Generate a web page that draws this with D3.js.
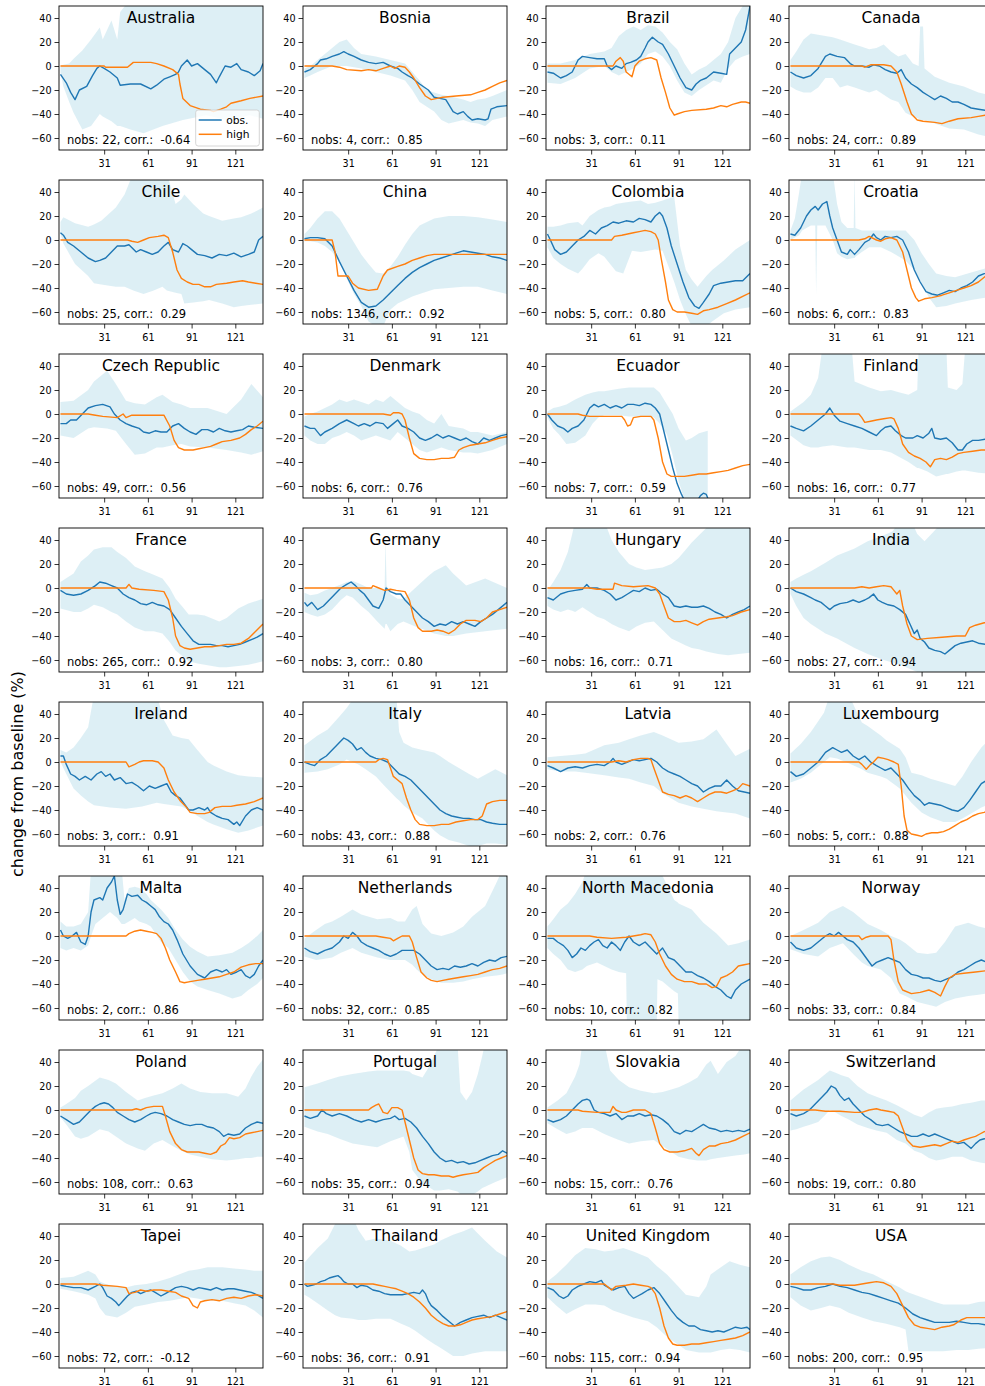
<!DOCTYPE html>
<html>
<head>
<meta charset="utf-8">
<script src="https://cdn.jsdelivr.net/npm/d3@7"></script>
<style>
  html, body { margin: 0; padding: 0; background: #fff; }
  svg { display: block; font-family: "DejaVu Sans", sans-serif; }
</style>
</head>
<body>
<svg id="chart" width="985" height="1386"></svg>
<script>
// Mobility change per country: observed series, "high" scenario and spread band.
const countries = ["Australia","Bosnia","Brazil","Canada","Chile","China","Colombia","Croatia",
  "Czech Republic","Denmark","Ecuador","Finland","France","Germany","Hungary","India",
  "Ireland","Italy","Latvia","Luxembourg","Malta","Netherlands","North Macedonia","Norway",
  "Poland","Portugal","Slovakia","Switzerland","Tapei","Thailand","United Kingdom","USA"];
const nobsCounts = [22,4,3,24,25,1346,5,6,49,6,7,16,265,3,16,27,3,43,2,5,2,32,10,33,108,35,15,19,72,36,115,200];
const corrValues = [-0.64,0.85,0.11,0.89,0.29,0.92,0.80,0.83,0.56,0.76,0.59,0.77,0.92,0.80,0.71,0.94,
  0.91,0.88,0.76,0.88,0.86,0.85,0.82,0.84,0.63,0.94,0.76,0.80,-0.12,0.91,0.94,0.95];
const yTicks = [-60,-40,-20,0,20,40];
const xTicks = [31,61,91,121];
const legendLabels = ["obs.","high"];

// observed change, [day, %]
const obsSeries = [
  [[1,-7],[5,-14],[8,-22],[11,-28],[14,-20],[19,-17],[23,-8],[26,-2],[28,0],[31,-2],[35,-5],[40,-10],[42,-16],[49,-15],[56,-15],[63,-19],[67,-16],[72,-11],[76,-9],[80,-7],[82,-5],[84,0],[88,5],[91,0],[95,2],[100,-3],[104,-7],[108,-14],[110,-9],[114,0],[118,-1],[122,2],[125,-3],[130,-5],[134,-8],[138,-4],[140,2]],
  [[1,-5],[5,-3],[8,0],[10,2],[12,5],[16,6],[20,8],[25,10],[28,12],[31,10],[35,8],[40,5],[45,3],[50,2],[55,3],[60,0],[65,-2],[68,-5],[72,-8],[75,-10],[80,-15],[86,-20],[90,-26],[94,-27],[98,-28],[100,-32],[103,-38],[106,-40],[110,-38],[113,-42],[116,-45],[120,-44],[125,-45],[127,-44],[129,-36],[133,-34],[140,-33]],
  [[1,-5],[5,-6],[10,-10],[14,-8],[18,-5],[22,5],[25,8],[30,7],[35,6],[40,6],[42,0],[45,-3],[48,0],[52,-2],[55,2],[58,3],[62,5],[65,8],[68,15],[70,20],[73,24],[77,20],[80,18],[84,10],[88,0],[92,-10],[96,-18],[100,-20],[103,-15],[106,-12],[110,-10],[115,-5],[120,-6],[124,-7],[126,10],[130,15],[134,20],[137,30],[140,50]],
  [[1,-5],[5,-8],[10,-10],[15,-8],[20,-2],[25,8],[28,10],[33,8],[38,7],[42,2],[45,0],[50,0],[55,-1],[58,1],[62,0],[66,-3],[70,-5],[74,-6],[77,-3],[80,-10],[84,-15],[88,-18],[92,-22],[96,-25],[100,-28],[104,-25],[108,-27],[112,-30],[116,-30],[120,-32],[125,-35],[130,-36],[135,-37],[140,-38]],
  [[1,6],[3,4],[6,-2],[10,-5],[15,-10],[20,-15],[25,-18],[28,-17],[32,-15],[36,-10],[40,-5],[45,-5],[48,-4],[53,-10],[56,-8],[60,-10],[64,-12],[68,-10],[72,-5],[75,-2],[78,-8],[82,-10],[85,-3],[88,-5],[91,-8],[95,-12],[100,-13],[105,-15],[110,-12],[115,-13],[120,-11],[125,-14],[130,-12],[134,-10],[137,0],[140,3]],
  [[1,1],[5,2],[10,2],[15,1],[20,-5],[25,-18],[30,-30],[35,-42],[40,-52],[45,-56],[50,-55],[55,-50],[60,-44],[65,-38],[70,-32],[75,-27],[80,-23],[85,-20],[90,-17],[95,-15],[100,-13],[105,-11],[110,-9],[115,-10],[120,-11],[125,-12],[130,-14],[135,-15],[140,-17]],
  [[1,5],[3,0],[6,-8],[10,-12],[14,-10],[18,-5],[22,0],[26,3],[30,8],[34,5],[38,10],[42,12],[46,15],[50,14],[55,16],[60,15],[64,18],[68,17],[72,15],[75,20],[78,23],[80,20],[83,10],[86,-5],[90,-20],[94,-35],[98,-48],[102,-55],[105,-57],[108,-52],[112,-45],[115,-38],[120,-36],[125,-35],[130,-34],[135,-34],[140,-28]],
  [[1,5],[4,4],[8,10],[12,20],[15,25],[18,28],[20,25],[23,30],[26,32],[28,20],[30,10],[33,0],[36,-10],[40,-12],[42,-8],[45,-12],[48,-8],[52,-2],[55,0],[58,5],[60,2],[63,0],[66,3],[70,2],[74,3],[78,0],[82,-10],[86,-25],[90,-35],[94,-43],[98,-45],[102,-46],[106,-44],[110,-42],[114,-43],[118,-40],[122,-38],[126,-35],[130,-30],[134,-28],[140,-26]],
  [[1,-8],[5,-8],[8,-5],[12,-5],[16,0],[20,5],[25,7],[30,8],[35,6],[38,0],[42,-5],[46,-8],[50,-10],[55,-12],[58,-15],[62,-16],[66,-14],[70,-15],[74,-15],[78,-10],[82,-8],[86,-12],[90,-15],[94,-17],[98,-13],[102,-13],[106,-15],[110,-12],[114,-14],[118,-15],[122,-14],[126,-13],[130,-10],[134,-11],[140,-12]],
  [[1,-10],[5,-12],[8,-12],[12,-18],[15,-15],[20,-12],[25,-8],[30,-5],[35,-8],[38,-10],[42,-8],[46,-10],[50,-7],[55,-8],[58,-12],[62,-8],[65,-5],[68,-10],[72,-12],[76,-15],[80,-20],[84,-22],[88,-20],[92,-17],[96,-20],[100,-18],[104,-20],[108,-22],[112,-20],[116,-23],[120,-25],[124,-20],[128,-22],[132,-20],[136,-18],[140,-17]],
  [[1,0],[4,-5],[8,-10],[12,-12],[15,-15],[18,-12],[22,-10],[26,-5],[28,0],[30,5],[33,8],[36,6],[40,8],[44,5],[48,7],[52,5],[56,8],[60,8],[64,7],[68,9],[72,8],[75,5],[78,0],[81,-15],[84,-30],[87,-45],[90,-58],[93,-67],[95,-72],[100,-76],[104,-72],[106,-68],[108,-66],[110,-67],[111,-70]],
  [[1,-10],[5,-12],[10,-14],[15,-10],[20,-5],[25,0],[28,5],[31,-1],[35,-6],[40,-8],[45,-10],[50,-12],[55,-15],[60,-18],[63,-14],[66,-11],[70,-10],[73,-14],[77,-18],[80,-20],[85,-20],[88,-18],[92,-20],[96,-16],[98,-12],[100,-20],[104,-21],[108,-20],[112,-24],[116,-30],[119,-30],[122,-25],[126,-22],[130,-22],[135,-21],[140,-22]],
  [[1,-2],[5,-5],[10,-6],[15,-5],[20,-2],[25,2],[28,5],[32,4],[36,2],[40,0],[44,-5],[48,-8],[52,-10],[56,-13],[60,-14],[64,-12],[68,-14],[72,-15],[76,-18],[80,-25],[84,-32],[88,-38],[92,-44],[96,-47],[100,-47],[104,-47],[108,-48],[112,-48],[116,-49],[120,-48],[124,-47],[128,-45],[132,-43],[136,-41],[140,-38]],
  [[1,-12],[3,-15],[6,-12],[10,-18],[14,-15],[18,-10],[22,-5],[26,0],[30,3],[33,5],[36,2],[39,-2],[42,-5],[45,-10],[48,-15],[52,-17],[55,-10],[57,0],[60,-3],[64,-5],[67,-5],[70,-10],[74,-15],[78,-20],[82,-25],[86,-28],[90,-32],[94,-30],[98,-31],[102,-28],[106,-30],[110,-28],[114,-30],[118,-32],[122,-28],[126,-25],[130,-22],[134,-18],[140,-12]],
  [[1,-8],[5,-10],[10,-5],[15,-3],[20,-2],[25,-1],[28,3],[30,0],[35,0],[40,-2],[44,-5],[48,-10],[52,-8],[56,-5],[60,-2],[64,-3],[68,0],[72,-2],[76,-1],[80,-5],[84,-8],[88,-15],[92,-16],[96,-15],[100,-16],[104,-16],[108,-15],[112,-17],[116,-20],[120,-22],[124,-25],[128,-22],[132,-20],[136,-18],[140,-15]],
  [[1,0],[5,-3],[10,-5],[15,-8],[18,-10],[22,-12],[25,-15],[28,-18],[31,-15],[35,-13],[40,-12],[44,-10],[48,-12],[52,-10],[55,-8],[58,-5],[61,-10],[64,-12],[68,-14],[72,-15],[76,-18],[80,-22],[83,-30],[86,-38],[88,-35],[90,-42],[93,-45],[96,-50],[100,-52],[104,-53],[107,-55],[110,-52],[114,-48],[118,-46],[122,-45],[126,-44],[130,-46],[135,-47],[140,-48]],
  [[1,5],[3,5],[5,-2],[8,-10],[11,-12],[14,-15],[18,-12],[22,-15],[26,-10],[29,-8],[32,-12],[35,-10],[38,-15],[42,-13],[46,-18],[50,-17],[54,-20],[58,-24],[62,-20],[66,-22],[70,-20],[74,-18],[77,-25],[80,-28],[83,-30],[86,-35],[89,-40],[92,-40],[96,-38],[100,-40],[102,-38],[104,-42],[108,-45],[112,-47],[116,-48],[120,-52],[122,-50],[124,-53],[128,-45],[132,-40],[136,-38],[140,-40]],
  [[1,0],[5,-2],[8,-3],[12,2],[16,5],[20,10],[24,15],[28,20],[31,18],[34,15],[37,10],[40,12],[43,8],[46,5],[50,3],[54,2],[58,0],[62,-5],[66,-10],[70,-12],[74,-15],[78,-20],[82,-25],[86,-30],[90,-35],[94,-40],[98,-43],[102,-45],[106,-46],[110,-47],[114,-47],[118,-48],[122,-48],[126,-50],[130,-51],[135,-52],[140,-52]],
  [[1,-3],[5,-5],[10,-8],[15,-5],[20,-4],[25,-5],[30,-3],[35,-2],[40,-3],[44,0],[46,3],[48,0],[52,-2],[56,0],[60,2],[64,1],[68,2],[72,3],[76,0],[80,-5],[84,-8],[88,-10],[92,-12],[96,-15],[100,-18],[104,-20],[108,-25],[112,-22],[116,-20],[120,-20],[124,-15],[128,-20],[132,-24],[136,-25],[140,-26]],
  [[1,-8],[5,-12],[10,-10],[15,-5],[20,0],[25,8],[30,12],[33,10],[36,8],[40,10],[44,5],[48,2],[52,5],[56,0],[60,-3],[63,-5],[66,-7],[70,-5],[74,-10],[78,-15],[82,-22],[86,-28],[90,-32],[93,-36],[96,-34],[100,-35],[104,-36],[108,-38],[112,-40],[116,-41],[120,-38],[124,-32],[128,-25],[132,-18],[136,-15],[140,-14]],
  [[1,5],[3,0],[6,-2],[9,0],[12,3],[15,-5],[18,-7],[20,0],[22,20],[24,30],[28,32],[30,30],[33,40],[36,45],[38,50],[40,30],[42,18],[44,22],[47,35],[50,33],[54,34],[57,30],[60,28],[63,25],[66,22],[69,16],[72,12],[75,10],[78,5],[81,-3],[85,-15],[90,-25],[95,-32],[100,-35],[104,-30],[108,-28],[112,-30],[115,-28],[118,-32],[122,-30],[125,-28],[128,-33],[131,-35],[134,-32],[137,-25],[140,-20]],
  [[1,-10],[5,-13],[10,-15],[15,-12],[20,-10],[25,-5],[28,0],[31,-2],[34,3],[37,0],[40,-5],[44,-8],[48,-10],[52,-12],[56,-15],[60,-17],[64,-15],[68,-12],[72,-12],[76,-12],[80,-15],[84,-20],[88,-25],[92,-28],[96,-27],[100,-28],[104,-25],[108,-26],[112,-25],[116,-23],[120,-25],[124,-22],[128,-20],[132,-21],[136,-18],[140,-17]],
  [[1,-2],[5,-2],[8,-5],[12,-8],[15,-12],[18,-18],[21,-15],[24,-10],[27,-12],[30,-8],[33,-5],[36,-3],[39,-8],[42,-10],[45,-5],[48,-8],[51,-12],[54,-5],[57,0],[60,-5],[64,-8],[68,-5],[72,-10],[76,-15],[80,-10],[84,-18],[88,-20],[92,-25],[96,-30],[100,-30],[104,-33],[108,-35],[112,-38],[116,-42],[120,-45],[124,-50],[127,-52],[130,-45],[134,-40],[140,-36]],
  [[1,-5],[5,-10],[10,-12],[15,-10],[20,-5],[25,0],[28,2],[31,0],[34,3],[37,0],[40,-3],[44,-5],[48,-10],[51,-15],[54,-20],[57,-25],[60,-22],[64,-20],[68,-18],[72,-20],[76,-22],[80,-28],[84,-32],[88,-33],[92,-35],[96,-35],[100,-37],[104,-38],[108,-36],[112,-34],[116,-30],[120,-28],[124,-25],[128,-22],[132,-20],[136,-22],[140,-22]],
  [[1,-5],[5,-8],[10,-12],[14,-10],[18,-5],[22,0],[25,3],[28,5],[31,6],[34,5],[37,2],[40,-2],[44,-5],[48,-8],[52,-10],[56,-8],[60,-5],[63,-3],[66,-2],[70,-3],[74,-5],[78,-8],[82,-10],[86,-12],[90,-13],[94,-12],[98,-12],[102,-14],[106,-15],[110,-18],[113,-22],[116,-20],[120,-21],[124,-20],[128,-15],[132,-12],[136,-10],[140,-11]],
  [[1,-5],[5,-7],[10,-5],[13,0],[16,-3],[20,-5],[25,-3],[30,-5],[35,-8],[40,-10],[45,-8],[50,-10],[55,-8],[60,-7],[63,-5],[66,-8],[70,-7],[74,-10],[78,-15],[82,-22],[86,-28],[90,-35],[94,-40],[98,-43],[102,-42],[106,-44],[110,-43],[114,-45],[118,-44],[122,-42],[126,-40],[130,-38],[134,-37],[137,-34],[140,-36]],
  [[1,-8],[5,-10],[10,-8],[14,-5],[18,0],[22,5],[25,8],[28,9],[30,8],[33,0],[36,-2],[40,-3],[44,-5],[48,-3],[52,-8],[56,-5],[60,-5],[64,-3],[68,-5],[72,-4],[76,-5],[80,-8],[84,-12],[88,-18],[92,-20],[96,-17],[100,-18],[104,-15],[108,-12],[112,-15],[116,-16],[120,-18],[124,-17],[128,-18],[132,-17],[136,-18],[140,-16]],
  [[1,-3],[5,-5],[10,-3],[14,0],[18,5],[22,10],[26,15],[29,20],[32,18],[35,12],[38,8],[41,10],[44,5],[48,0],[52,-5],[56,-8],[60,-12],[64,-13],[68,-12],[72,-15],[76,-18],[80,-20],[84,-22],[88,-22],[92,-20],[96,-22],[100,-20],[104,-22],[108,-24],[112,-26],[116,-28],[120,-27],[123,-30],[125,-32],[128,-28],[131,-25],[134,-24],[140,-25]],
  [[1,-1],[5,-2],[10,-3],[15,-3],[20,-5],[25,-2],[28,0],[30,-3],[33,-10],[36,-12],[39,-15],[41,-18],[44,-14],[47,-10],[50,-7],[53,-6],[56,-8],[60,-6],[63,-5],[66,-7],[70,-10],[73,-8],[76,-6],[80,-3],[84,-2],[88,-3],[92,-5],[96,-3],[100,-4],[104,-5],[108,-3],[112,-5],[116,-4],[120,-4],[124,-5],[128,-6],[132,-7],[136,-9],[140,-12]],
  [[1,0],[3,-2],[6,-1],[9,0],[12,2],[15,3],[18,5],[21,6],[24,7],[26,5],[28,2],[31,0],[34,0],[37,-3],[40,-1],[44,-2],[48,-5],[52,-6],[56,-8],[60,-9],[64,-9],[68,-9],[72,-8],[76,-7],[80,-8],[82,-5],[84,-8],[86,-14],[88,-18],[92,-22],[96,-27],[100,-31],[104,-35],[108,-32],[112,-30],[116,-28],[120,-27],[124,-26],[128,-28],[132,-26],[136,-28],[140,-30]],
  [[1,-3],[5,-5],[9,-10],[12,-12],[15,-10],[18,-5],[22,-2],[26,0],[30,2],[34,1],[38,3],[40,-1],[43,-3],[46,-5],[50,-3],[54,-2],[57,-8],[60,-12],[63,-10],[66,-8],[70,-5],[74,-3],[78,-8],[82,-15],[86,-22],[90,-28],[94,-32],[98,-35],[102,-35],[106,-38],[110,-39],[114,-40],[118,-39],[122,-40],[126,-38],[130,-36],[134,-37],[138,-36],[140,-38]],
  [[1,-2],[5,-3],[10,-5],[15,-5],[20,-3],[25,-2],[30,0],[35,-2],[40,-3],[45,-5],[50,-7],[55,-8],[60,-10],[65,-12],[70,-14],[75,-16],[80,-20],[85,-25],[90,-28],[95,-30],[100,-32],[105,-32],[110,-32],[115,-31],[120,-32],[125,-33],[130,-33],[135,-34],[140,-35]]
];

// "high" scenario, [day, %]
const highSeries = [
  [[1,0],[31,0],[32,-1],[47,-1],[51,3],[63,3],[67,2],[72,0],[78,-3],[82,-7],[83,-15],[85,-27],[90,-33],[97,-36],[104,-37],[106,-38],[111,-36],[115,-34],[118,-31],[125,-29],[131,-27],[140,-25]],
  [[1,0],[20,0],[25,-1],[30,-3],[40,-4],[45,-3],[50,-4],[55,-2],[60,0],[63,-2],[66,0],[70,-1],[73,-5],[76,-10],[80,-18],[84,-25],[88,-28],[92,-27],[96,-26],[105,-25],[115,-24],[120,-22],[125,-20],[130,-17],[135,-14],[140,-12]],
  [[1,0],[46,0],[48,4],[51,7],[53,4],[55,-5],[59,-9],[61,0],[64,4],[68,6],[72,7],[76,5],[79,-10],[82,-22],[85,-35],[88,-41],[90,-40],[95,-38],[100,-37],[110,-36],[115,-35],[120,-33],[124,-34],[128,-32],[134,-30],[137,-30],[140,-31]],
  [[1,0],[50,0],[52,-1],[56,1],[65,1],[70,0],[74,-5],[77,-15],[81,-30],[84,-40],[88,-45],[92,-46],[100,-47],[105,-48],[110,-46],[116,-44],[125,-43],[130,-42],[135,-41],[140,-40]],
  [[1,0],[47,0],[50,-1],[54,-2],[58,0],[62,2],[68,3],[72,4],[75,2],[78,-10],[81,-25],[84,-32],[88,-35],[92,-37],[96,-37],[100,-39],[104,-39],[108,-37],[115,-36],[120,-35],[126,-34],[130,-35],[135,-36],[140,-37]],
  [[1,0],[20,0],[22,-10],[24,-30],[31,-30],[34,-36],[38,-40],[45,-42],[51,-41],[55,-30],[58,-25],[65,-22],[70,-20],[75,-17],[80,-15],[85,-13],[90,-12],[140,-12]],
  [[1,0],[45,0],[47,3],[52,4],[56,5],[60,6],[64,7],[68,8],[72,7],[75,5],[77,0],[79,-15],[82,-35],[84,-50],[87,-58],[90,-60],[95,-60],[100,-61],[104,-62],[108,-59],[112,-58],[118,-56],[124,-53],[130,-50],[135,-47],[140,-44]],
  [[1,0],[48,0],[52,1],[55,3],[60,0],[63,-1],[66,1],[70,2],[74,0],[78,-10],[81,-25],[84,-40],[87,-48],[89,-51],[93,-49],[98,-48],[102,-47],[105,-46],[110,-44],[115,-42],[120,-40],[125,-38],[130,-35],[135,-30],[140,-28]],
  [[1,0],[20,0],[25,-1],[30,-2],[40,-3],[44,0],[46,-3],[50,-1],[72,-1],[76,-10],[79,-22],[82,-28],[86,-30],[92,-30],[96,-29],[100,-28],[104,-27],[108,-25],[112,-23],[118,-22],[124,-20],[128,-17],[132,-13],[136,-10],[140,-6]],
  [[1,0],[55,0],[60,-1],[62,1],[66,1],[68,0],[70,-5],[73,-20],[76,-33],[80,-37],[85,-38],[90,-38],[95,-37],[100,-37],[104,-36],[107,-30],[110,-28],[115,-26],[120,-25],[125,-24],[130,-22],[135,-20],[140,-19]],
  [[1,0],[22,0],[25,-1],[30,-2],[52,-2],[54,-5],[56,-10],[58,-9],[60,-3],[65,-2],[72,-2],[74,-5],[77,-20],[80,-40],[83,-50],[86,-52],[95,-52],[100,-51],[105,-50],[110,-50],[115,-49],[120,-48],[125,-47],[130,-45],[135,-43],[140,-42]],
  [[1,0],[48,0],[50,-3],[52,-7],[56,-6],[60,-5],[65,-4],[70,-3],[72,-4],[75,-12],[78,-25],[82,-32],[86,-35],[90,-37],[94,-40],[97,-44],[100,-38],[104,-37],[108,-38],[112,-36],[116,-33],[120,-32],[126,-31],[132,-30],[140,-30]],
  [[1,0],[46,0],[48,3],[50,0],[55,-1],[65,-2],[72,-3],[75,-10],[78,-25],[80,-40],[83,-48],[86,-50],[90,-51],[95,-50],[100,-49],[105,-49],[110,-48],[115,-47],[120,-47],[125,-46],[130,-42],[135,-36],[140,-30]],
  [[1,0],[47,0],[48,2],[52,0],[56,-2],[60,-1],[64,-2],[70,-3],[73,-10],[76,-25],[79,-33],[82,-36],[88,-36],[92,-35],[96,-36],[100,-38],[104,-35],[108,-30],[112,-27],[118,-27],[122,-28],[126,-25],[130,-20],[135,-18],[140,-16]],
  [[1,0],[30,0],[35,-1],[46,-1],[47,4],[52,2],[60,1],[70,2],[75,0],[78,-5],[81,-15],[84,-25],[88,-28],[92,-28],[96,-27],[100,-29],[104,-31],[108,-28],[112,-26],[118,-25],[124,-24],[128,-23],[134,-20],[140,-18]],
  [[1,0],[45,0],[50,1],[55,0],[60,1],[65,2],[70,1],[72,-2],[74,-5],[76,-2],[78,-15],[81,-30],[84,-40],[88,-43],[95,-42],[105,-41],[115,-40],[121,-40],[124,-33],[128,-31],[134,-29],[140,-28]],
  [[1,0],[46,0],[48,-4],[52,-2],[55,0],[58,1],[64,1],[68,0],[72,-5],[75,-15],[79,-25],[83,-32],[87,-37],[90,-42],[95,-43],[100,-43],[103,-42],[107,-38],[112,-37],[118,-37],[122,-36],[128,-35],[134,-33],[140,-30]],
  [[1,0],[50,0],[52,2],[55,3],[58,2],[60,-5],[62,-12],[65,-15],[68,-18],[71,-30],[74,-40],[77,-48],[80,-52],[85,-53],[90,-53],[95,-52],[100,-52],[105,-50],[110,-49],[115,-48],[120,-48],[123,-45],[126,-35],[130,-33],[135,-32],[140,-32]],
  [[1,0],[45,0],[50,1],[55,0],[60,2],[65,3],[70,3],[72,2],[74,-5],[77,-15],[80,-25],[84,-27],[88,-28],[92,-30],[96,-28],[100,-30],[104,-33],[108,-30],[112,-27],[116,-25],[120,-25],[124,-26],[128,-24],[132,-22],[135,-18],[140,-20]],
  [[1,0],[48,0],[50,-2],[53,-6],[56,-2],[58,0],[61,4],[65,3],[68,2],[72,0],[75,-2],[77,-20],[79,-45],[81,-57],[84,-60],[88,-61],[91,-62],[94,-60],[98,-59],[102,-59],[106,-58],[110,-56],[114,-53],[118,-50],[122,-48],[126,-45],[130,-43],[134,-42],[140,-38]],
  [[1,0],[46,0],[48,2],[52,4],[56,5],[60,4],[64,3],[67,2],[70,-2],[73,-10],[76,-20],[80,-30],[83,-38],[86,-39],[90,-38],[95,-37],[100,-36],[105,-35],[110,-34],[115,-32],[120,-30],[125,-26],[130,-24],[135,-23],[140,-23]],
  [[1,0],[50,0],[55,-1],[60,-2],[62,-4],[65,-2],[68,0],[73,0],[75,-5],[78,-18],[81,-30],[85,-35],[88,-37],[92,-38],[96,-37],[100,-36],[105,-35],[110,-34],[115,-33],[120,-32],[125,-30],[130,-28],[135,-27],[140,-25]],
  [[1,0],[30,0],[35,-1],[45,-2],[55,-1],[60,0],[65,1],[68,2],[72,1],[75,-5],[78,-15],[82,-25],[86,-32],[90,-36],[95,-38],[100,-38],[105,-40],[110,-40],[114,-43],[117,-42],[120,-35],[124,-33],[128,-30],[132,-25],[136,-24],[140,-23]],
  [[1,0],[48,0],[50,-3],[53,-1],[56,0],[68,0],[70,-3],[72,-20],[75,-38],[78,-45],[84,-48],[90,-47],[96,-45],[100,-47],[104,-50],[107,-42],[110,-35],[114,-32],[120,-31],[128,-30],[135,-29],[140,-28]],
  [[1,0],[50,0],[53,1],[56,0],[60,2],[65,3],[71,3],[73,-5],[76,-18],[80,-28],[84,-33],[88,-35],[92,-35],[96,-35],[100,-36],[104,-37],[108,-35],[111,-30],[114,-28],[117,-23],[120,-24],[124,-23],[128,-20],[132,-19],[136,-18],[140,-17]],
  [[1,0],[45,0],[47,2],[50,4],[52,5],[55,-2],[58,-3],[61,2],[65,2],[68,0],[70,-10],[73,-25],[76,-40],[79,-50],[82,-53],[86,-54],[90,-54],[95,-55],[100,-55],[103,-56],[106,-55],[110,-54],[115,-53],[120,-52],[124,-48],[128,-45],[132,-42],[136,-40],[140,-38]],
  [[1,0],[22,0],[25,-1],[35,-2],[44,-2],[46,3],[48,0],[52,-2],[55,-2],[60,0],[68,0],[72,-3],[75,-15],[78,-28],[81,-33],[85,-35],[90,-35],[95,-34],[100,-32],[103,-36],[105,-38],[108,-33],[112,-30],[116,-30],[120,-28],[125,-27],[130,-25],[135,-22],[140,-19]],
  [[1,0],[18,0],[25,-1],[35,-1],[45,-2],[50,-2],[55,0],[60,1],[63,0],[68,-1],[72,-2],[75,-5],[78,-15],[81,-25],[85,-30],[90,-31],[95,-30],[100,-29],[104,-30],[108,-28],[112,-26],[116,-27],[120,-25],[125,-23],[128,-22],[131,-20],[134,-18],[140,-17]],
  [[1,0],[25,0],[30,-1],[40,-2],[46,-3],[48,-8],[52,-7],[56,-5],[60,-6],[65,-5],[70,-5],[75,-6],[80,-7],[84,-10],[89,-12],[92,-18],[95,-20],[97,-15],[100,-14],[105,-13],[110,-14],[115,-12],[120,-11],[125,-12],[130,-10],[135,-9],[140,-10]],
  [[1,0],[48,0],[52,-1],[56,-2],[60,-3],[64,-4],[68,-6],[72,-8],[76,-11],[80,-15],[84,-20],[88,-26],[92,-30],[96,-33],[100,-35],[104,-35],[108,-34],[112,-32],[116,-30],[120,-29],[125,-28],[130,-27],[135,-25],[140,-23]],
  [[1,0],[40,0],[42,-2],[45,-5],[48,-2],[55,-1],[60,0],[65,-1],[70,-2],[72,-3],[75,-8],[78,-20],[81,-35],[84,-45],[87,-50],[90,-51],[95,-51],[100,-50],[105,-50],[110,-49],[115,-48],[120,-47],[125,-46],[130,-45],[135,-43],[140,-40]],
  [[1,0],[30,0],[35,-1],[45,-1],[50,0],[55,1],[60,2],[65,1],[70,-2],[74,-8],[78,-18],[82,-28],[86,-34],[90,-36],[95,-37],[100,-38],[105,-36],[110,-35],[113,-34],[118,-30],[122,-28],[130,-28],[140,-28]]
];

// spread band, [day, lower %, upper %]
const bandSeries = [
  [[1,-5,0],[3,-17,1],[7,-30,2],[10,-39,6],[16,-53,13],[22,-50,22],[28,-40,32],[30,-42,22],[36,-46,38],[40,-50,22],[42,-50,45],[49,-53,56],[58,-56,56],[71,-50,56],[85,-45,56],[101,-41,56],[115,-45,56],[131,-41,56],[140,-44,56]],
  [[1,-10,-2],[5,-8,0],[10,-5,5],[20,0,15],[25,0,20],[30,0,22],[35,-1,15],[40,-2,10],[50,-5,8],[60,-8,5],[70,-12,2],[75,-20,-5],[80,-30,-12],[85,-34,-20],[90,-38,-22],[95,-45,-24],[100,-48,-25],[110,-45,-28],[115,-47,-30],[120,-48,-28],[125,-50,-27],[130,-45,-25],[140,-42,-20]],
  [[1,-14,2],[10,-15,2],[20,-10,5],[30,-2,10],[40,0,12],[45,-5,15],[50,-8,25],[55,-5,30],[60,-2,33],[65,2,30],[70,10,34],[75,12,33],[80,8,28],[85,0,20],[90,-12,14],[95,-22,2],[100,-25,-7],[105,-20,-3],[110,-16,0],[115,-12,5],[120,-14,10],[125,-2,20],[130,5,40],[135,8,50],[140,10,56]],
  [[1,-17,5],[5,-20,12],[10,-22,22],[15,-22,27],[20,-18,26],[25,-10,25],[30,-10,24],[35,-18,22],[40,-16,20],[45,-18,18],[50,-20,16],[55,-22,14],[60,-20,15],[65,-24,18],[70,-28,12],[75,-30,8],[80,-39,10],[85,-42,2],[89,-44,0],[90,-45,33],[92,-45,33],[93,-45,-2],[100,-48,-9],[110,-52,-14],[120,-53,-17],[130,-57,-22],[140,-60,-25]],
  [[1,5,15],[3,-3,19],[11,-20,14],[20,-30,11],[24,-36,13],[29,-37,16],[39,-39,27],[45,-39,38],[51,-42,56],[58,-45,56],[65,-42,56],[71,-39,56],[74,-42,56],[80,-44,30],[84,-45,34],[86,-53,38],[92,-52,30],[99,-51,22],[103,-50,20],[112,-53,16],[120,-56,18],[125,-55,19],[132,-54,22],[140,-53,27]],
  [[1,-1,5],[5,-1,10],[10,-2,18],[15,-5,24],[20,-10,24],[25,-18,18],[30,-32,8],[35,-45,-2],[40,-55,-12],[45,-68,-20],[50,-72,-27],[55,-72,-28],[60,-58,-22],[65,-53,-14],[70,-50,-4],[75,-47,5],[80,-45,12],[90,-41,18],[100,-40,20],[110,-39,20],[120,-39,19],[130,-42,17],[140,-45,15]],
  [[1,-6,11],[5,-15,11],[10,-20,12],[15,-24,14],[22,-28,15],[25,-24,12],[30,-16,20],[36,-11,25],[40,-14,27],[44,-20,28],[48,-26,30],[53,-28,31],[59,-9,32],[65,-10,33],[70,-9,30],[75,-8,31],[80,-9,33],[85,-25,35],[88,-35,36],[92,-50,-5],[96,-62,-25],[100,-72,-33],[104,-72,-39],[110,-72,-30],[114,-68,-25],[122,-61,-17],[130,-58,-8],[140,-56,0]],
  [[1,0,8],[4,2,18],[7,4,40],[9,8,56],[15,12,56],[18,12,56],[18.6,-45,56],[19.4,12,56],[25,12,56],[30,0,56],[33,-11,30],[36,-14,15],[40,-16,10],[44.4,-15,10],[45,-15,56],[45.6,-14,10],[50,-10,8],[55,-6,8],[63,-6,8],[70,-10,8],[80,-17,8],[86,-25,0],[91,-36,-11],[96,-48,-20],[101,-56,-28],[108,-55,-30],[114,-53,-31],[125,-50,-27],[140,-47,-22]],
  [[1,-18,10],[10,-20,11],[20,-12,20],[24,-11,27],[33,-12,36],[39,-14,25],[46,-25,11],[52,-34,9],[59,-33,8],[67,-28,14],[71,-28,16],[78,-26,10],[84,-25,8],[90,-27,5],[102,-28,5],[115,-30,0],[125,-32,12],[132,-34,25],[140,-31,14]],
  [[1,-18,-2],[5,-22,0],[10,-25,2],[15,-25,5],[20,-20,8],[25,-18,12],[30,-15,10],[35,-18,12],[40,-22,10],[45,-20,8],[50,-18,12],[55,-20,10],[60,-22,15],[65,-15,10],[70,-20,5],[75,-25,2],[80,-30,0],[85,-32,-5],[90,-30,-8],[95,-28,0],[100,-30,-10],[110,-32,-12],[115,-32,-15],[120,-33,-15],[130,-30,-18],[140,-25,-15]],
  [[1,-3,2],[5,-12,5],[9,-17,6],[14,-25,8],[20,-24,12],[27,-18,16],[32,-8,18],[36,-3,19],[40,-1,19],[50,-1,21],[57,-2,22],[65,-2,22],[74,-3,22],[78,-8,18],[83,-17,8],[87,-35,0],[91,-56,-12],[96,-75,-22],[100,-75,-20],[105,-75,-16],[111,-75,-14]],
  [[1,-18,2],[10,-26,10],[15,-28,16],[20,-28,30],[23,-27,56],[30,-26,56],[40,-28,56],[43,-28,56],[45,-28,27],[55,-30,22],[63,-30,19],[70,-32,20],[76,-36,18],[82,-40,16],[88,-45,20],[89,-45,56],[95,-48,56],[101,-52,56],[108,-50,56],[109,-50,22],[115,-48,20],[119,-47,25],[121,-47,56],[130,-49,56],[140,-50,56]],
  [[1,-17,5],[10,-20,12],[15,-20,22],[20,-17,27],[24,-14,32],[30,-16,34],[36,-20,34],[40,-22,30],[46,-28,25],[52,-33,18],[59,-36,14],[65,-36,11],[71,-38,8],[76,-45,0],[80,-52,-9],[85,-57,-16],[89,-61,-22],[95,-63,-22],[100,-64,-23],[110,-66,-28],[115,-66,-25],[123,-65,-17],[130,-64,-13],[140,-61,-9]],
  [[1,-20,-4],[5,-22,-6],[10,-24,-5],[15,-22,-2],[20,-18,0],[26,-10,3],[30,-6,5],[34,-8,6],[40,-15,3],[45,-20,0],[51,-28,0],[56,-34,-2],[56.6,-30,40],[57.4,-30,2],[60,-36,-5],[65,-30,-9],[69,-28,-9],[77,-32,0],[86,-36,10],[90,-38,14],[98,-40,19],[103,-40,12],[112,-38,2],[125,-36,8],[140,-34,0]],
  [[1,-15,-2],[5,-18,5],[10,-20,15],[15,-18,30],[18,-19,45],[20,-20,56],[25,-16,56],[30,-20,56],[35,-24,56],[40,-26,56],[45,-30,40],[50,-33,30],[57,-36,20],[62,-32,17],[68,-29,15],[74,-28,16],[80,-35,17],[86,-42,20],[91,-45,25],[96,-48,32],[100,-50,38],[105,-51,44],[110,-53,50],[118,-55,56],[125,-56,56],[132,-55,56],[140,-54,56]],
  [[1,-5,5],[5,-15,8],[10,-25,11],[15,-30,14],[25,-38,21],[33,-42,27],[45,-50,33],[54,-55,39],[65,-60,44],[71,-62,47],[76,-64,56],[84,-68,56],[88,-70,45],[93,-72,39],[100,-72,48],[106,-72,56],[140,-72,56]],
  [[1,0,10],[5,-10,8],[10,-22,12],[15,-28,20],[20,-33,29],[24,-36,56],[35,-38,56],[46,-39,56],[57,-37,56],[67,-34,56],[72,-35,35],[78,-36,22],[84,-37,20],[89,-40,19],[95,-45,10],[102,-50,0],[106,-52,-3],[115,-56,-8],[123,-59,-11],[130,-57,-12],[140,-53,-13]],
  [[1,-9,14],[10,-8,22],[17,-6,27],[25,-2,38],[30,2,45],[34,0,52],[38,-2,56],[43,-6,56],[50,-12,56],[56,-20,56],[64,-30,56],[66,-32,25],[69,-36,16],[75,-42,12],[82,-47,10],[90,-57,8],[94,-61,5],[100,-65,0],[107,-67,-5],[114,-70,-10],[120,-70,-14],[126,-68,-10],[132,-68,-6],[140,-69,-11]],
  [[1,-6,4],[10,-8,5],[20,-8,6],[27,-9,7],[40,-11,14],[50,-13,16],[57,-14,19],[65,-17,22],[74,-20,25],[80,-26,22],[91,-34,16],[100,-37,17],[108,-39,19],[117,-41,27],[124,-42,15],[130,-43,5],[140,-47,11]],
  [[1,-17,7],[8,-14,15],[15,-9,25],[24,0,41],[28,4,56],[33,3,56],[41,-1,56],[50,-6,33],[54,-9,30],[63,-12,22],[67,-14,18],[76,-22,11],[80,-28,4],[84,-34,-9],[91,-42,-11],[97,-46,-14],[106,-50,-17],[114,-50,-20],[119,-47,-12],[125,-43,0],[132,-38,12],[140,-34,22]],
  [[1,-10,12],[5,-12,8],[10,-10,8],[15,-12,10],[20,-8,20],[22,0,56],[25,10,56],[30,15,56],[35,20,56],[40,15,56],[43,10,56],[45,10,30],[48,12,40],[52,15,41],[55,12,40],[60,10,35],[63,8,30],[70,-5,22],[75,-10,15],[80,-20,5],[85,-30,-3],[90,-38,-9],[95,-42,-13],[102,-45,-17],[110,-48,-16],[119,-52,-14],[125,-50,-10],[130,-45,-6],[136,-40,0],[140,-35,5]],
  [[1,-17,-2],[9,-20,5],[15,-19,10],[20,-18,12],[26,-14,16],[34,-10,22],[40,-14,18],[51,-18,14],[60,-20,15],[65,-20,12],[70,-20,12],[75,-24,22],[78,-28,25],[82,-32,10],[88,-36,2],[95,-39,0],[103,-39,3],[110,-38,8],[116,-36,16],[125,-34,25],[133,-33,45],[137,-32,56],[140,-31,56]],
  [[1,-10,8],[5,-15,14],[10,-20,22],[15,-28,27],[20,-30,35],[25,-28,45],[28,-25,56],[35,-22,56],[40,-25,56],[45,-28,56],[50,-30,56],[55,-31,56],[55.5,-72,56],[76,-72,56],[76.5,-36,56],[80,-38,50],[84,-42,40],[88,-46,30],[90.5,-48,28],[91,-72,27],[100,-72,22],[108,-72,11],[117,-72,2],[125,-72,-8],[132,-72,-6],[140,-72,-3]],
  [[1,-11,0],[10,-15,5],[20,-17,11],[28,-10,20],[37,-6,25],[44,-15,20],[50,-22,14],[54,-25,10],[63,-28,5],[70,-35,0],[76,-48,-3],[80,-50,-6],[88,-55,-14],[95,-57,-15],[101,-59,-14],[107,-55,-5],[114,-52,8],[123,-50,11],[130,-49,8],[140,-47,5]],
  [[1,-6,2],[5,-12,5],[11,-22,10],[15,-24,16],[20,-22,20],[28,-16,27],[34,-18,25],[39,-22,22],[46,-28,15],[54,-32,8],[59,-34,10],[65,-28,12],[71,-25,14],[78,-30,18],[84,-34,22],[90,-37,18],[97,-39,15],[105,-41,14],[115,-42,14],[123,-41,11],[128,-40,18],[132,-40,28],[136,-39,36],[140,-39,42]],
  [[1,-14,19],[10,-18,22],[17,-20,25],[25,-24,28],[34,-28,30],[45,-30,32],[51,-31,33],[60,-26,33],[69,-22,33],[73,-35,32],[75,-50,30],[82,-61,27],[86,-64,35],[90,-67,45],[94,-67,56],[100,-66,56],[106,-68,56],[108,-70,15],[112,-72,8],[116,-71,15],[120,-68,30],[123,-65,45],[125,-64,56],[132,-60,56],[140,-56,56]],
  [[1,-11,2],[8,-16,8],[14,-20,14],[20,-18,28],[23,-16,38],[25,-15,56],[32,-15,56],[40,-20,56],[44,-22,33],[50,-25,25],[57,-28,19],[65,-26,16],[74,-25,14],[80,-30,15],[86,-35,17],[91,-39,19],[98,-41,23],[104,-42,27],[110,-42,38],[113,-41,41],[118,-40,30],[124,-39,40],[130,-38,45],[136,-37,56],[140,-36,56]],
  [[1,-17,8],[5,-16,12],[10,-14,17],[15,-12,21],[20,-10,25],[25,-4,30],[28,0,33],[32,-2,31],[36,-5,29],[41,-8,27],[47,-12,20],[54,-15,14],[60,-17,11],[67,-19,8],[74,-25,4],[80,-28,0],[86,-34,-4],[91,-36,-6],[96,-40,-2],[101,-42,1],[106,-41,2],[112,-39,3],[119,-39,5],[125,-42,6],[132,-44,8],[140,-45,8]],
  [[1,-4,5],[10,-6,6],[20,-9,11],[25,-12,8],[28,-20,2],[32,-26,0],[40,-28,-2],[46,-24,-3],[52,-19,-1],[60,-17,0],[68,-15,2],[76,-14,5],[89,-11,11],[95,-12,12],[102,-14,14],[112,-14,14],[120,-16,13],[128,-18,12],[134,-22,11],[140,-28,11]],
  [[1,-9,18],[4,-11,22],[10,-16,30],[17,-22,38],[22,-26,50],[26,-28,56],[34,-29,56],[38,-30,45],[43,-30,36],[50,-29,38],[60,-29,36],[67,-33,32],[73,-36,27],[77,-39,28],[85,-46,31],[90,-50,33],[94,-53,36],[103,-60,41],[110,-60,44],[116,-58,47],[120,-57,42],[125,-56,36],[133,-56,27],[140,-56,22]],
  [[1,-11,2],[7,-18,8],[14,-25,16],[20,-21,24],[27,-17,30],[34,-17,29],[40,-18,27],[46,-22,28],[53,-25,30],[60,-28,27],[70,-31,22],[76,-36,15],[83,-44,8],[90,-50,-1],[96,-55,-9],[105,-57,-11],[110,-57,-2],[113,-57,8],[120,-55,14],[126,-54,19],[133,-55,16],[140,-57,14]],
  [[1,-11,8],[8,-18,14],[15,-22,19],[22,-20,22],[28,-18,23],[35,-20,20],[41,-24,16],[50,-28,11],[58,-31,8],[66,-33,3],[76,-36,-3],[80,-38,-6],[82,-56,-7],[91,-56,-11],[100,-56,-15],[106,-56,-17],[115,-55,-17],[123,-55,-17],[130,-54,-15],[140,-53,-14]]
];

// Panel geometry
const W = 204, H = 144;
const colLeft = [59, 303, 546, 789];
const rowTop0 = 6, rowStep = 174;
const blue = "#1f77b4", orange = "#ff7f0e";

const svg = d3.select("#chart");
const x = d3.scaleLinear().domain([0, 140]).range([0, W]);
const y = d3.scaleLinear().domain([-70, 50]).range([H, 0]);

svg.append("defs").append("clipPath").attr("id", "plotclip")
  .append("rect").attr("x", 0).attr("y", 0).attr("width", W).attr("height", H);

const line = d3.line().x(d => x(d[0])).y(d => y(d[1]));
const area = d3.area().x(d => x(d[0])).y0(d => y(d[1])).y1(d => y(d[2]));

const fmtCorr = v => (v < 0 ? "-" : "") + Math.abs(v).toFixed(2);

countries.forEach((name, i) => {
  const col = i % 4, row = Math.floor(i / 4);
  const g = svg.append("g")
    .attr("transform", `translate(${colLeft[col]},${rowTop0 + row * rowStep})`);

  const plot = g.append("g").attr("clip-path", "url(#plotclip)");
  plot.append("path").datum(bandSeries[i])
    .attr("d", area).attr("fill", "#add8e6").attr("fill-opacity", 0.42);
  plot.append("path").datum(obsSeries[i])
    .attr("d", line).attr("fill", "none").attr("stroke", blue)
    .attr("stroke-width", 1.4).attr("stroke-linejoin", "round");
  plot.append("path").datum(highSeries[i])
    .attr("d", line).attr("fill", "none").attr("stroke", orange)
    .attr("stroke-width", 1.4).attr("stroke-linejoin", "round");

  // axes
  const ya = g.append("g").call(d3.axisLeft(y).tickValues(yTicks).tickSize(4.5).tickPadding(3));
  const xa = g.append("g").attr("transform", `translate(0,${H})`)
    .call(d3.axisBottom(x).tickValues(xTicks).tickSize(4.5).tickPadding(5.5).tickFormat(d3.format("d")));
  [ya, xa].forEach(a => {
    a.select(".domain").remove();
    a.selectAll("text").attr("font-size", 9.6).attr("fill", "#000")
      .attr("font-family", "DejaVu Sans, sans-serif");
    a.selectAll("line").attr("stroke", "#000").attr("stroke-width", 0.8);
  });

  // frame
  g.append("rect").attr("x", 0).attr("y", 0).attr("width", W).attr("height", H)
    .attr("fill", "none").attr("stroke", "#000").attr("stroke-width", 0.9);

  g.append("text").attr("x", W / 2).attr("y", 16.7).attr("text-anchor", "middle")
    .attr("font-size", 15.5).attr("fill", "#000").text(name);

  g.append("text").attr("x", 8).attr("y", 138.3).attr("font-size", 11.5)
    .attr("fill", "#000").style("white-space", "pre")
    .text(`nobs: ${nobsCounts[i]}, corr.:  ${fmtCorr(corrValues[i])}`);

  if (i === 0) {
    const lg = g.append("g").attr("transform", "translate(136.7,104)");
    lg.append("rect").attr("width", 63.6).attr("height", 36).attr("rx", 2.5)
      .attr("fill", "#fff").attr("fill-opacity", 0.8)
      .attr("stroke", "#cccccc").attr("stroke-width", 0.8);
    [blue, orange].forEach((c, k) => {
      const yy = 10 + k * 14.3;
      lg.append("line").attr("x1", 3).attr("x2", 26).attr("y1", yy).attr("y2", yy)
        .attr("stroke", c).attr("stroke-width", 1.5);
      lg.append("text").attr("x", 30.5).attr("y", yy + 3.8).attr("font-size", 10.7)
        .attr("fill", "#000").text(legendLabels[k]);
    });
  }
});

svg.append("text")
  .attr("transform", "translate(23,774) rotate(-90)")
  .attr("text-anchor", "middle").attr("font-size", 16).attr("fill", "#000")
  .text("change from baseline (%)");
</script>
</body>
</html>
